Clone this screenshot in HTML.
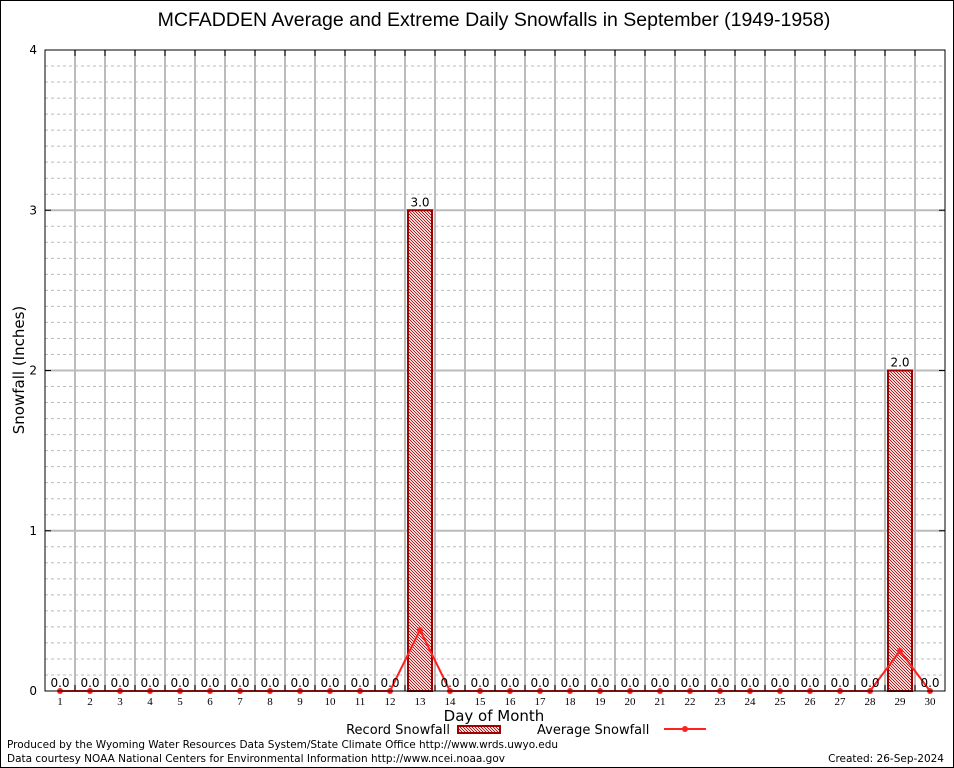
<!DOCTYPE html>
<html><head><meta charset="utf-8"><style>
body{margin:0;background:#fff;}
svg{display:block;font-family:"DejaVu Sans","Liberation Sans",sans-serif;}
</style></head><body>
<svg id="chart" width="954" height="768">
<defs>
<pattern id="hatch" width="3" height="3" patternUnits="userSpaceOnUse">
<rect width="3" height="3" fill="#f4d8d8"/>
<rect x="0" y="0" width="1" height="1" fill="#b02020"/>
<rect x="1" y="1" width="1" height="1" fill="#b02020"/>
<rect x="2" y="2" width="1" height="1" fill="#b02020"/>
</pattern>
</defs>
<rect x="0.5" y="0.5" width="953" height="767" fill="#fff" stroke="#000"/>
<text x="494" y="26" font-size="19.5" text-anchor="middle" font-family="Liberation Sans, sans-serif">MCFADDEN Average and Extreme Daily Snowfalls in September (1949-1958)</text>
<g id="grid"></g>
<g id="bars"></g>
<g id="avg"></g>
<g id="labels"></g>
<rect x="45" y="50" width="900" height="641" fill="none" stroke="#000"/>
<g id="axes"></g>
<text x="24" y="370" font-size="15" text-anchor="middle" transform="rotate(-90 24 370)">Snowfall (Inches)</text>
<text x="494" y="721" font-size="15" text-anchor="middle">Day of Month</text>
<g>
<text x="450" y="734" font-size="13" text-anchor="end">Record Snowfall</text>
<rect x="458" y="726" width="42" height="7" fill="url(#hatch)" stroke="#a00000" stroke-width="2"/>
</g>
<g>
<text x="537" y="734" font-size="13">Average Snowfall</text>
<line x1="664" y1="729" x2="706" y2="729" stroke="#ff2020" stroke-width="2"/>
<circle cx="685" cy="729" r="3" fill="#ff2020"/>
</g>
<text x="7" y="748" font-size="10.5" textLength="551">Produced by the Wyoming Water Resources Data System/State Climate Office http://www.wrds.uwyo.edu</text>
<text x="7" y="762" font-size="10.5" textLength="498">Data courtesy NOAA National Centers for Environmental Information http://www.ncei.noaa.gov</text>
<text x="944" y="762" font-size="10.5" text-anchor="end">Created:  26-Sep-2024</text>
</svg>
<script>
const days=[1,2,3,4,5,6,7,8,9,10,11,12,13,14,15,16,17,18,19,20,21,22,23,24,25,26,27,28,29,30];
const recordSnow=[0,0,0,0,0,0,0,0,0,0,0,0,3.0,0,0,0,0,0,0,0,0,0,0,0,0,0,0,0,2.0,0];
const avgSnow=[0,0,0,0,0,0,0,0,0,0,0,0,0.38,0,0,0,0,0,0,0,0,0,0,0,0,0,0,0,0.25,0];
const yTicks=[0,1,2,3,4];
const NS="http://www.w3.org/2000/svg";
const L=45,R=945,T=50,B=691,yMax=4;
const dx=(R-L)/days.length;
const xs=d=>L+(d-0.5)*dx;
const ys=v=>B-(v/yMax)*(B-T);
function mk(tag,attrs,parent){const e=document.createElementNS(NS,tag);for(const k in attrs)e.setAttribute(k,attrs[k]);parent.appendChild(e);return e;}
const grid=document.getElementById('grid'),bars=document.getElementById('bars'),avg=document.getElementById('avg'),labels=document.getElementById('labels'),axes=document.getElementById('axes');
for(let i=1;i<yMax*10;i++){
 if(i%10===0)continue;
 const l=mk('line',{x1:L,x2:R,y1:ys(i/10),y2:ys(i/10),stroke:'#bbb','stroke-dasharray':'3,3','stroke-width':1},grid);
 
 
}
yTicks.forEach(t=>{
 if(t>0&&t<yMax){const l=mk('line',{x1:L,x2:R,y1:ys(t),y2:ys(t),stroke:'#bbb','stroke-width':2},grid);
 
 }
 const tx=mk('text',{x:L-8,y:ys(t)+4,'font-size':12,'text-anchor':'end'},axes);tx.textContent=t;
 
 
 mk('line',{x1:L,x2:L+6,y1:ys(t),y2:ys(t),stroke:'#000'},axes);
 mk('line',{x1:R,x2:R-6,y1:ys(t),y2:ys(t),stroke:'#000'},axes);
});
for(let i=1;i<days.length;i++){
 const x=L+i*dx;
 const l=mk('line',{x1:x,x2:x,y1:T,y2:B,stroke:'#bbb','stroke-width':2},grid);
 
 
 mk('line',{x1:x,x2:x,y1:T,y2:T+6,stroke:'#000'},axes);
 mk('line',{x1:x,x2:x,y1:B,y2:B-6,stroke:'#000'},axes);
}
days.forEach((d,i)=>{
 const tx=mk('text',{x:xs(d),y:B+14,'font-size':11,'text-anchor':'middle','font-family':'Liberation Serif, serif'},axes);tx.textContent=d;
 
 
 const v=recordSnow[i];
 if(v>0){const r=mk('rect',{x:xs(d)-12,y:ys(v),width:24,height:B-ys(v),fill:'url(#hatch)',stroke:'#a00000','stroke-width':2},bars);
 
 }
 const lb=mk('text',{x:xs(d),y:ys(v)-4,'font-size':12,'text-anchor':'middle'},labels);lb.textContent=v.toFixed(1);
 
 
});
const pl=mk('polyline',{points:days.map((d,i)=>xs(d)+','+ys(avgSnow[i])).join(' '),fill:'none',stroke:'#ff2020','stroke-width':2},avg);


days.forEach((d,i)=>{
 const c=mk('circle',{cx:xs(d),cy:ys(avgSnow[i]),r:3,fill:'#ff2020'},avg);
 
 
});
</script>
</body></html>
